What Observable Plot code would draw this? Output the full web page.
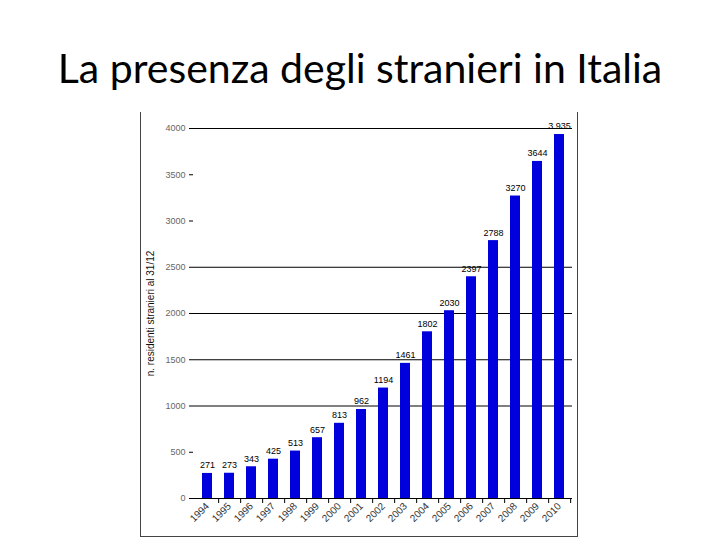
<!DOCTYPE html>
<html>
<head>
<meta charset="utf-8">
<script src="https://cdn.jsdelivr.net/npm/d3@7"></script>
<script src="https://cdn.jsdelivr.net/npm/@observablehq/plot@0.6"></script>
<style>
  html, body { margin: 0; padding: 0; background: #fff; }
  #wrap { position: relative; width: 720px; height: 540px; overflow: hidden; }
  #title { height: 105px; box-sizing: border-box; padding-top: 47px; text-align: center;
           font-family: Lato, "Open Sans", sans-serif; font-size: 41px; line-height: 41px; color: #000; white-space: nowrap; }
  #frame { position: absolute; left: 140px; top: 112px; width: 436px; height: 424px;
           border-left: 1px solid #444; border-right: 1px solid #444; border-bottom: 1px solid #444; }
  #chart { position: relative; }
</style>
</head>
<body>
<div id="wrap">
  <div id="title">La presenza degli stranieri in Italia</div>
  <div id="frame"></div>
  <div id="chart"></div>
</div>
<script>
const years = ["1994","1995","1996","1997","1998","1999","2000","2001","2002","2003","2004","2005","2006","2007","2008","2009","2010"];
const values = [271, 273, 343, 425, 513, 657, 813, 962, 1194, 1461, 1802, 2030, 2397, 2788, 3270, 3644, 3935];
const valueLabels = ["271","273","343","425","513","657","813","962","1194","1461","1802","2030","2397","2788","3270","3644","3.935"];
const yTicks = [0, 500, 1000, 1500, 2000, 2500, 3000, 3500, 4000];
const gridValues = [1000, 1500, 2000, 2500, 4000];
const yLabel = "n. residenti stranieri al 31/12";

const data = years.map((y, i) => ({year: y, value: values[i], label: valueLabels[i]}));

const chart = Plot.plot({
  width: 720,
  height: 435,
  marginTop: 23,
  marginBottom: 42,
  marginLeft: 193,
  marginRight: 148,
  style: {fontFamily: "'Liberation Sans', Arial, sans-serif", fontSize: "9px", background: "transparent"},
  x: {domain: years, paddingInner: 0.55, paddingOuter: 0.275},
  y: {domain: [0, 4000]},
  marks: [
    Plot.ruleY(gridValues, {stroke: "#000", strokeWidth: 1}),
    Plot.barY(data, {x: "year", y: "value", fill: "#0000dd"}),
    Plot.text(data, {x: "year", y: "value", text: "label", dy: -8, fontSize: 9, fill: "#000"}),
    Plot.ruleY([0], {stroke: "#000"}),
    Plot.axisY({ticks: yTicks, tickFormat: d => String(d), tickSize: 4, tickPadding: 4, fontSize: 9, fill: "#666", stroke: "#000",
                label: null}),
    Plot.axisY({ticks: [], label: yLabel, labelAnchor: "center", labelArrow: "none", labelOffset: 47,
                fontSize: 10, fill: "#111"}),
    Plot.axisX({tickSize: 0, tickRotate: -45, tickPadding: 6, fontSize: 10, fill: "#333", label: null}),
    Plot.axisX({text: null, tickSize: 5, dx: 11.15, stroke: "#000", label: null})
  ]
});
document.getElementById("chart").appendChild(chart);
</script>
</body>
</html>
